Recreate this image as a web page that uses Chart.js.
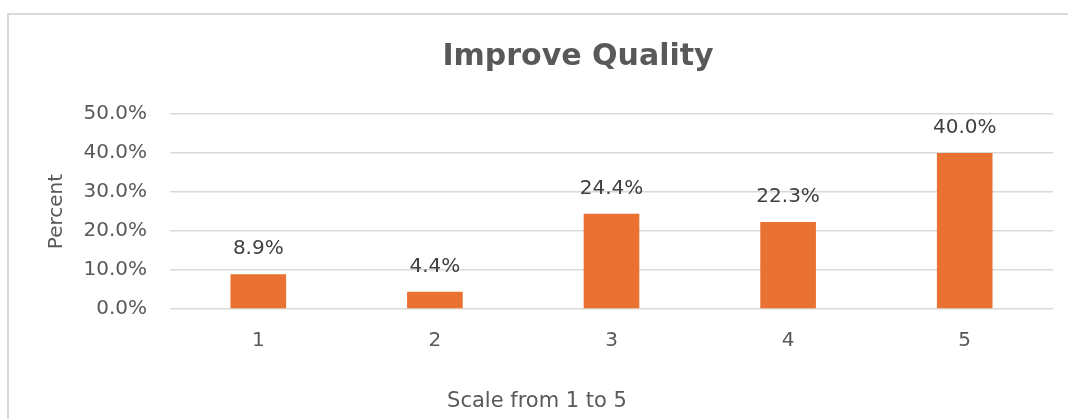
<!DOCTYPE html>
<html>
<head>
<meta charset="utf-8">
<script src="https://cdn.jsdelivr.net/npm/chart.js@4.4.1/dist/chart.umd.min.js"></script>
<style>
  html, body { margin: 0; padding: 0; background: #fff; }
  #wrap { position: relative; width: 1068px; height: 419px; overflow: hidden; }
  #frame { position: absolute; left: 7px; top: 13px; width: 1100px; height: 420px; border: 2px solid #d9d9d9; border-bottom: none; border-right: none; box-sizing: border-box; }
  canvas { position: absolute; left: 0; top: 0; }
</style>
</head>
<body>
<div id="wrap">
  <div id="frame"></div>
  <canvas id="chart" width="1068" height="419"></canvas>
</div>
<script>
/* data */
const categories = ['1', '2', '3', '4', '5'];
const percents   = [8.9, 4.4, 24.4, 22.3, 40.0];
const yTicks     = [0, 10, 20, 30, 40, 50];

const chartTitle = 'Improve Quality';
const xTitle     = 'Scale from 1 to 5';
const yTitle     = 'Percent';

const TEXT = '#595959';
const GRID = '#d9d9d9';
const BAR  = '#E97132';
const FONT = '"DejaVu Sans", Verdana, sans-serif';

/* ── value labels above bars + titles placed like the Office chart ── */
const chartText = {
    id: 'chartText',
    afterDatasetsDraw(chart) {
        const ctx = chart.ctx;
        const meta = chart.getDatasetMeta(0);
        ctx.save();
        ctx.textAlign = 'center';
        ctx.textBaseline = 'middle';

        ctx.font = '20px ' + FONT;
        ctx.fillStyle = '#404040';
        meta.data.forEach((bar, i) => {
            ctx.fillText(percents[i].toFixed(1) + '%', bar.x, bar.y - 25);
        });

        ctx.fillStyle = TEXT;
        ctx.font = 'bold 30px ' + FONT;
        ctx.fillText(chartTitle, 578, 57);
        ctx.font = '21px ' + FONT;
        ctx.fillText(xTitle, 537, 402);
        ctx.restore();
    }
};

new Chart(document.getElementById('chart').getContext('2d'), {
    type: 'bar',
    data: {
        labels: categories,
        datasets: [{
            data: percents,
            backgroundColor: BAR,
            borderWidth: 0,
            categoryPercentage: 1,
            barPercentage: 0.315
        }]
    },
    options: {
        responsive: false,
        animation: false,
        layout: { padding: { left: 8, right: 15, top: 114, bottom: 0 } },
        plugins: {
            legend: { display: false },
            tooltip: { enabled: false }
        },
        scales: {
            x: {
                grid: { display: false, drawTicks: false },
                border: { display: false },
                ticks: { color: TEXT, padding: 20, font: { size: 20, family: FONT } },
                afterFit: s => { s.height = 110; }
            },
            y: {
                min: 0, max: 50,
                afterBuildTicks: s => { s.ticks = yTicks.map(v => ({ value: v })); },
                grid: { color: GRID, lineWidth: 1.5, drawTicks: false },
                border: { display: false },
                ticks: { color: TEXT, padding: 23, font: { size: 20, family: FONT }, callback: v => v.toFixed(1) + '%' },
                title: { display: true, text: yTitle, color: TEXT, padding: { top: 37, bottom: 0 }, font: { size: 20, family: FONT, lineHeight: 1.2 } },
                afterFit: s => { s.width = 162; }
            }
        }
    },
    plugins: [chartText]
});
</script>
</body>
</html>
